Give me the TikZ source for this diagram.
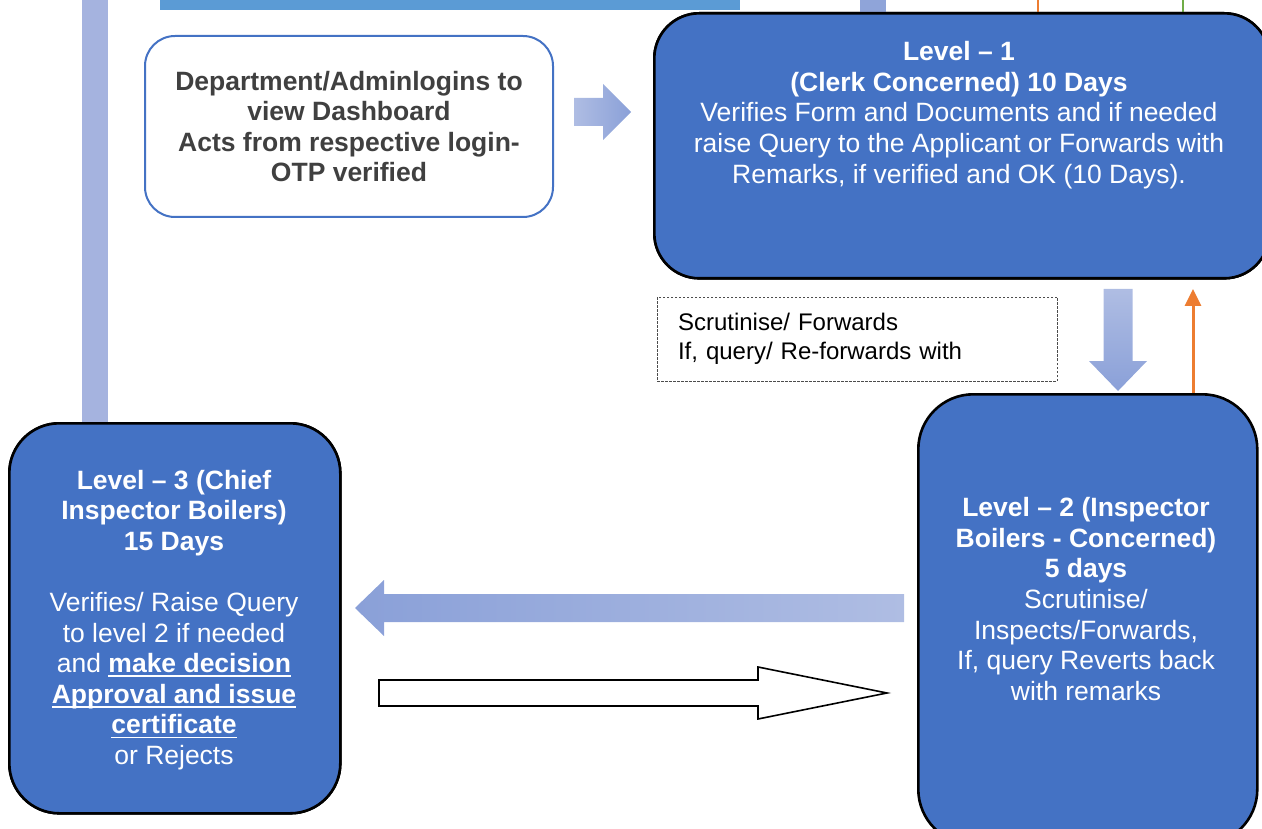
\documentclass[tikz,border=0pt]{standalone}
\usepackage{fontspec}
\setmainfont{Liberation Sans}
\usetikzlibrary{arrows.meta,calc}

\definecolor{boxblue}{HTML}{4472C4}
\definecolor{bandblue}{HTML}{5B9BD5}
\definecolor{barleft}{HTML}{A5B3DF}
\definecolor{barmid}{HTML}{8FA4D9}
\definecolor{arrowlight}{HTML}{AFBDE3}
\definecolor{arrowdark}{HTML}{8AA0D8}
\definecolor{lineorange}{HTML}{ED7D31}
\definecolor{linegreen}{HTML}{70AD47}
\definecolor{darktext}{HTML}{404040}

% bold text with a thick underline sitting a fixed distance below the baseline
\newcommand\ulbold[1]{\setbox0\hbox{\textbf{#1}}\rlap{\rule[-4.5pt]{\wd0}{1.9pt}}\box0}

\begin{document}
\begin{tikzpicture}[x=1pt,y=-1pt,
  levelbox/.style={draw=black,line width=2.6pt,fill=boxblue,inner sep=0pt},
  leveltext/.style={text=white,align=center,inner sep=0pt,
    font=\fontsize{26.5pt}{30.6pt}\selectfont},
  dashbox/.style={draw=boxblue,line width=2pt,fill=white,rounded corners=30pt,
    minimum width=408pt,minimum height=181pt,align=center,text=darktext,inner sep=0pt,
    font=\bfseries\fontsize{26.5pt}{30.6pt}\selectfont},
  notebox/.style={draw=black!70,dash pattern=on 2.5pt off 1.5pt,line width=0.8pt,
    minimum width=400pt,minimum height=84pt,text width=358pt,align=left,
    inner xsep=21pt,inner ysep=0pt,font=\fontsize{24pt}{29pt}\selectfont},
  fatright/.style={left color=arrowlight,right color=arrowdark},
  fatleft/.style={left color=arrowdark,right color=arrowlight},
  fatdown/.style={top color=arrowlight,bottom color=arrowdark},
  hollow/.style={draw=black,line width=1.6pt,fill=white,line join=miter}]
\useasboundingbox (0,0) rectangle (1262,829);
\clip (0,0) rectangle (1262,829);

% boxes
\node[levelbox,rounded corners=45pt,minimum width=615pt,minimum height=265pt,anchor=north west]
  (l1) at (653,12) {};
\node[levelbox,rounded corners=55pt,minimum width=339pt,minimum height=450pt,anchor=north west]
  (l2) at (917,393) {};
\node[levelbox,rounded corners=50pt,minimum width=331pt,minimum height=390pt,anchor=north west]
  (l3) at (8,422) {};

% band and bars entering from the top edge
\fill[bandblue] (160,0) rectangle (740,10);
\coordinate (barL) at (95,0);
\coordinate (barM) at (873,0);
\coordinate (topO) at (1038,0);
\coordinate (topG) at (1183,0);
\draw[line width=26pt,barleft] (barL) -- (barL |- l3.north);
\draw[line width=26pt,barmid] (barM) -- (barM |- l1.north);
\draw[line width=2.5pt,lineorange] (topO) -- (topO |- l1.north);
\draw[line width=2pt,linegreen] (topG) -- (topG |- l1.north);

% redraw box outlines over the bar ends
\node[levelbox,rounded corners=45pt,minimum width=615pt,minimum height=265pt,anchor=north west]
  at (653,12) {};
\node[levelbox,rounded corners=50pt,minimum width=331pt,minimum height=390pt,anchor=north west]
  at (8,422) {};

% box texts
\node[leveltext] (l1t) at (959,115) {\textbf{Level – 1}\\
  \textbf{(Clerk Concerned) 10 Days}\\
  Verifies Form and Documents and if needed\\
  raise Query to the Applicant or Forwards with\\
  Remarks, if verified and OK (10 Days).};
\node[leveltext] (l2t) at (1086,599) {\textbf{Level – 2 (Inspector}\\
  \textbf{Boilers - Concerned)}\\
  \textbf{5 days}\\
  Scrutinise/\\
  Inspects/Forwards,\\
  If, query Reverts back\\
  with remarks};
\node[leveltext] (l3t) at (174,620) {\textbf{Level – 3 (Chief}\\
  \textbf{Inspector Boilers)}\\
  \textbf{15 Days}\\[30.6pt]
  Verifies/ Raise Query\\
  to level 2 if needed\\
  and \ulbold{make decision}\\
  \ulbold{Approval and issue}\\
  \ulbold{certificate}\\
  or Rejects};

\node[dashbox] (dash) at (349,126.5) {Department/Adminlogins to\\
  view Dashboard\\
  Acts from respective login-\\
  OTP verified};

\node[notebox] (note) at (857,339) {Scrutinise/ Forwards\\
  If, query/ Re-forwards with};

% dashboard -> level 1
\coordinate (a1s) at (574,112);
\coordinate (a1e) at (631,112);
\shade[fatright] (a1s) -- ++(0,-14) -| ($(a1e)+(-28,-28)$) -- (a1e)
  -- ($(a1e)+(-28,28)$) |- ($(a1s)+(0,14)$) -- cycle;

% level 1 -> level 2
\coordinate (a2s) at (1118,289);
\coordinate (a2e) at (1118,391);
\shade[fatdown] (a2s) -- ++(-14.5,0) |- ($(a2e)+(-29,-30)$) -- (a2e)
  -- ($(a2e)+(29,-30)$) -| ($(a2s)+(14.5,0)$) -- cycle;

% level 2 -> level 1 (query back)
\coordinate (oTip) at (1193,289);
\draw[lineorange,line width=3pt,-{Triangle[width=16pt,length=17pt]}]
  (oTip |- l2.north) -- (oTip);

% level 2 -> level 3
\coordinate (a3s) at (904,608);
\coordinate (a3e) at (355,608);
\shade[fatleft] (a3s) -- ++(0,-14) -| ($(a3e)+(29,-28)$) -- (a3e)
  -- ($(a3e)+(29,28)$) |- ($(a3s)+(0,14)$) -- cycle;

% level 3 -> level 2
\coordinate (a4s) at (379,693);
\coordinate (a4e) at (887,693);
\draw[hollow] (a4s) -- ++(0,-13) -| ($(a4e)+(-129,-26)$) -- (a4e)
  -- ($(a4e)+(-129,26)$) |- ($(a4s)+(0,13)$) -- cycle;
\end{tikzpicture}
\end{document}
